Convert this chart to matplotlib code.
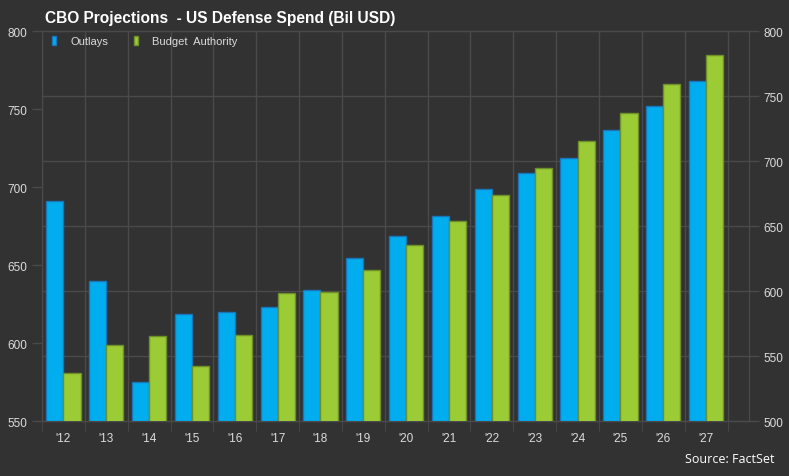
import numpy as np
import matplotlib.pyplot as plt
import matplotlib.transforms as mtransforms

years = ["'12", "'13", "'14", "'15", "'16", "'17", "'18", "'19",
         "'20", "'21", "'22", "'23", "'24", "'25", "'26", "'27"]
outlays = [691, 640, 575, 618.5, 620, 623, 634.5, 654.5,
           668.5, 681.5, 699, 709, 719, 737, 752.5, 768]
budget_auth = [537.5, 559, 566, 542.5, 566.5, 599, 599.5, 616.5,
               635.5, 654.5, 674.5, 695, 716, 737.5, 759.5, 781.5]
left_ticks = [550, 600, 650, 700, 750, 800]
right_ticks = [500, 550, 600, 650, 700, 750, 800]

bg = '#323232'
grid_c = '#4a4a4a'
txt_c = '#dcdcdc'
blue = '#00adef'
blue_edge = '#1b75bb'
green = '#9bcb35'
green_edge = '#6f8f2a'

plt.rcParams['font.family'] = ['Liberation Sans', 'DejaVu Sans']

fig = plt.figure(figsize=(7.89, 4.77), dpi=100, facecolor=bg)
ax = fig.add_axes([0.0532, 0.1147, 0.8961, 0.8173])
ax.set_facecolor(bg)
ax2 = ax.twinx()

x = np.arange(len(years))
w = 0.4
ax.bar(x - w / 2, outlays, w, color=blue, edgecolor=blue_edge, linewidth=1, zorder=3, label='Outlays')
ax2.bar(x + w / 2, budget_auth, w, color=green, edgecolor=green_edge, linewidth=1, zorder=3,
        label='Budget  Authority')

ax.set_ylim(550, 800)
ax2.set_ylim(500, 800)
ax.set_xlim(-0.5, 16.0)
ax.set_yticks(left_ticks)
ax2.set_yticks(right_ticks)
ax.set_xticks(x)
ax.set_xticklabels(years)
ax.set_xticks(np.arange(-0.5, len(years), 1), minor=True)

# horizontal grid follows the right axis, drawn under the bars
tr = mtransforms.blended_transform_factory(ax.transAxes, ax2.transData)
for v in right_ticks:
    ax.plot([0, 1], [v, v], transform=tr, color=grid_c, lw=1, zorder=0.5, clip_on=False)
ax.grid(which='minor', axis='x', color=grid_c, lw=1, zorder=0.5)

for a in (ax, ax2):
    for s in a.spines.values():
        s.set_color(grid_c)
    a.tick_params(colors=txt_c, labelsize=8.5, length=7, width=1, color=grid_c)
ax.tick_params(axis='x', which='major', length=0, pad=8)
ax.tick_params(axis='x', which='minor', length=7, color=grid_c)

h1, l1 = ax.get_legend_handles_labels()
h2, l2 = ax2.get_legend_handles_labels()
leg = ax2.legend(h1 + h2, l1 + l2, loc='upper left', bbox_to_anchor=(0.0, 1.015), ncol=2,
                 frameon=False, fontsize=8, handlelength=0.35, handleheight=0.9,
                 columnspacing=2.3, handletextpad=1.3, labelcolor=txt_c)

fig.text(0.057, 0.962, 'CBO Projections  - US Defense Spend (Bil USD)', color='white',
         fontsize=11.2, fontweight='bold', va='center', ha='left')
fig.text(0.981, 0.024, 'Source: FactSet', color='white', fontsize=9,
         family=['Open Sans', 'DejaVu Sans'], ha='right', va='bottom')

fig.savefig('out.png', dpi=100, facecolor=bg)
